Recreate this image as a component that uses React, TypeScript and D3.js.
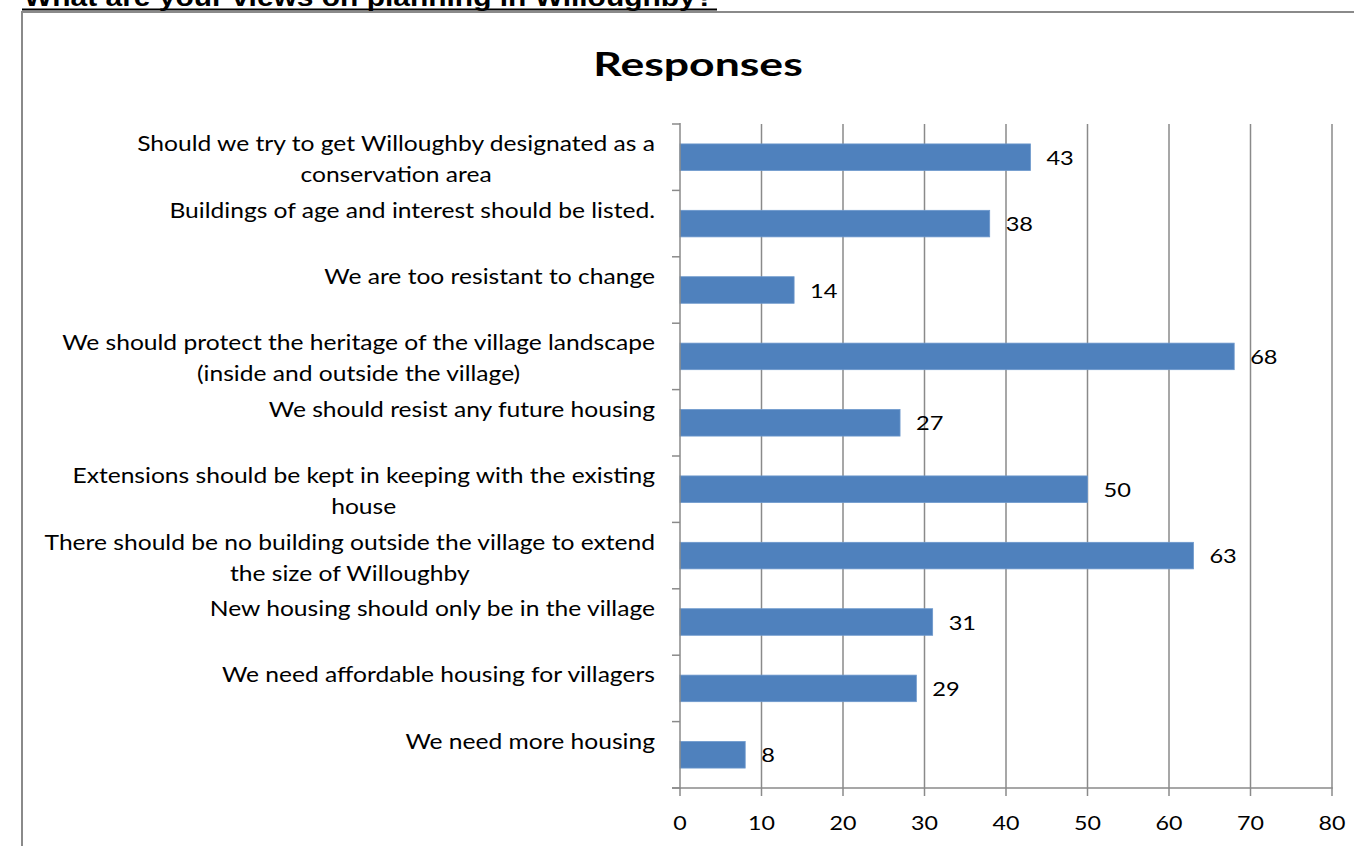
import React, { useEffect, useRef } from "react";
import * as d3 from "d3";

const categoryLines: string[][] = [
  ["Should we try to get Willoughby designated as a", "conservation area"],
  ["Buildings of age and interest should be listed."],
  ["We are too resistant to change"],
  ["We should protect the heritage of the village landscape", "(inside and outside the village)"],
  ["We should resist any future housing"],
  ["Extensions should be kept in keeping with the existing", "house"],
  ["There should be no building outside the village to extend", "the size of Willoughby"],
  ["New housing should only be in the village"],
  ["We need affordable housing for villagers"],
  ["We need more housing"],
];
const values: number[] = [43, 38, 14, 68, 27, 50, 63, 31, 29, 8];
const xTicks: number[] = [0, 10, 20, 30, 40, 50, 60, 70, 80];
const pageTitle = "What are your views on planning in Willoughby?";
const chartTitle = "Responses";

const W = 1354;
const H = 846;
const GRID = "#8a8a8a";
const BAR = "#4F81BD";
const FONT = "Lato, 'Open Sans', sans-serif";
const SX = 1.2;

type TSel = d3.Selection<SVGTextElement, unknown, null, undefined>;

function stretch(t: any, sx: number): number {
  const node = t.node() as SVGTextElement;
  const w = node.getComputedTextLength();
  t.attr("textLength", w * sx).attr("lengthAdjust", "spacingAndGlyphs");
  return w * sx;
}

export default function App() {
  const ref = useRef<SVGSVGElement>(null);

  useEffect(() => {
    const svg = d3.select(ref.current);
    svg.selectAll("*").remove();

    const ids = categoryLines.map((_, i) => String(i));
    const y = d3.scaleBand<string>().domain(ids).range([124, 788]);
    const x = d3.scaleLinear().domain([0, 80]).range([680, 1332]);

    // page heading (cut off at top, as in the source)
    svg.append("text")
      .attr("x", 24).attr("y", 6)
      .attr("font-family", "'Liberation Sans', Arial, sans-serif")
      .attr("font-weight", "bold").attr("font-size", 26)
      .attr("textLength", 690).attr("lengthAdjust", "spacingAndGlyphs")
      .attr("fill", "#000").text(pageTitle);

    // outer frame
    svg.append("line").attr("x1", 22).attr("x2", W).attr("y1", 12).attr("y2", 12)
      .attr("stroke", GRID).attr("stroke-width", 2);
    svg.append("line").attr("x1", 22).attr("x2", 22).attr("y1", 11).attr("y2", H)
      .attr("stroke", GRID).attr("stroke-width", 2);
    // underline
    svg.append("line").attr("x1", 22).attr("x2", 717).attr("y1", 9.5).attr("y2", 9.5)
      .attr("stroke", "#000").attr("stroke-width", 2);

    // chart title
    const tt = svg.append("text")
      .attr("x", 698).attr("y", 76).attr("text-anchor", "middle")
      .attr("font-family", FONT).attr("font-weight", "bold").attr("font-size", 33)
      .attr("fill", "#000").text(chartTitle);
    stretch(tt, 1.35);

    // gridlines
    svg.append("g").selectAll("line").data(xTicks.filter(t => t > 0)).join("line")
      .attr("x1", d => x(d)).attr("x2", d => x(d))
      .attr("y1", 124).attr("y2", 788)
      .attr("stroke", GRID).attr("stroke-width", 1.5);

    // bars
    const bh = y.bandwidth() / 2.5;
    svg.append("g").selectAll("rect").data(values).join("rect")
      .attr("x", x(0))
      .attr("y", (_, i) => (y(String(i)) as number) + y.bandwidth() / 2 - bh / 2)
      .attr("width", d => x(d) - x(0))
      .attr("height", bh)
      .attr("fill", BAR)
      .attr("stroke", "#6d98cc").attr("stroke-width", 0.8);

    // value labels
    svg.append("g").selectAll("text").data(values).join("text")
      .attr("x", d => x(d) + 16)
      .attr("y", (_, i) => (y(String(i)) as number) + y.bandwidth() / 2 + 7.5)
      .attr("font-family", FONT).attr("font-size", 20).attr("fill", "#000")
      .text(d => String(d))
      .each(function () { stretch(d3.select(this), 1.18); });

    // axes
    svg.append("line").attr("x1", x(0)).attr("x2", x(0)).attr("y1", 123).attr("y2", 789)
      .attr("stroke", GRID).attr("stroke-width", 1.5);
    svg.append("line").attr("x1", 672).attr("x2", x(80) + 0.75).attr("y1", 788).attr("y2", 788)
      .attr("stroke", GRID).attr("stroke-width", 1.5);
    const bounds = ids.map(id => y(id) as number).concat([788]);
    svg.append("g").selectAll("line").data(bounds).join("line")
      .attr("x1", 672).attr("x2", 680).attr("y1", d => d).attr("y2", d => d)
      .attr("stroke", GRID).attr("stroke-width", 1.5);
    svg.append("g").selectAll("line").data(xTicks).join("line")
      .attr("x1", d => x(d)).attr("x2", d => x(d)).attr("y1", 788).attr("y2", 796)
      .attr("stroke", GRID).attr("stroke-width", 1.5);
    svg.append("g").selectAll("text").data(xTicks).join("text")
      .attr("x", d => x(d)).attr("y", 830).attr("text-anchor", "middle")
      .attr("font-family", FONT).attr("font-size", 20).attr("fill", "#000")
      .text(d => String(d))
      .each(function () { stretch(d3.select(this), 1.16); });

    // category labels
    const lg = svg.append("g");
    categoryLines.forEach((lines, i) => {
      const c = (y(String(i)) as number) + y.bandwidth() / 2;
      const t1 = lg.append("text")
        .attr("x", 655).attr("y", c - 6).attr("text-anchor", "end")
        .attr("font-family", FONT).attr("font-size", 20.5).attr("fill", "#000")
        .text(lines[0]);
      const w = stretch(t1, SX);
      if (lines.length > 1) {
        const t2 = lg.append("text")
          .attr("x", 655 - w / 2).attr("y", c + 25).attr("text-anchor", "middle")
          .attr("font-family", FONT).attr("font-size", 20.5).attr("fill", "#000")
          .text(lines[1]);
        stretch(t2, SX);
      }
    });
  }, []);

  return (
    <svg
      ref={ref}
      width={W}
      height={H}
      style={{ position: "absolute", left: 0, top: 0, display: "block", background: "#fff" }}
    />
  );
}
